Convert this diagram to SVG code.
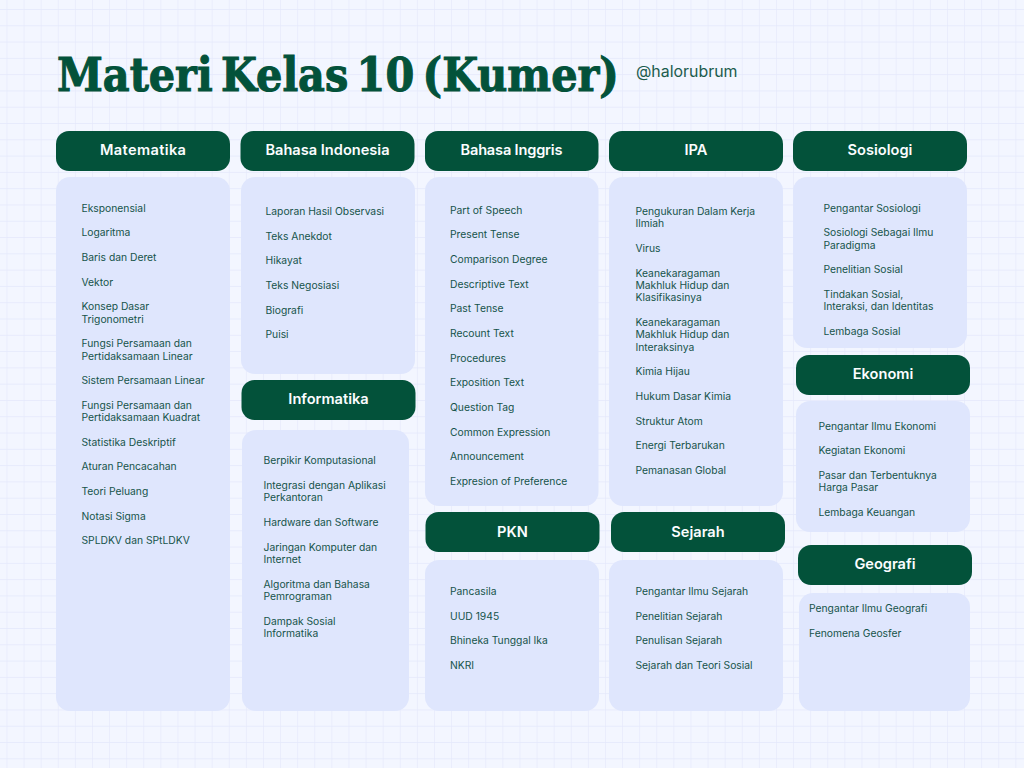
<svg xmlns="http://www.w3.org/2000/svg" width="1024" height="768" viewBox="0 0 1024 768">
<style>
.h{fill:#03523a}
.p{fill:#dfe6fd}
.ht{font-family:"Inter","Liberation Sans",sans-serif;font-size:14.6px;font-weight:600;fill:#fbfdff;text-anchor:middle}
.t{font-family:"Inter","Liberation Sans",sans-serif;font-size:10.3px;fill:#16544a}
.title{font-family:"DejaVu Serif",serif;font-weight:700;font-size:46px;fill:#03523a;stroke:#03523a;stroke-width:1.1px;word-spacing:-6.7px}
.sub{font-family:"Inter","Liberation Sans",sans-serif;font-size:15.9px;fill:#1c5c4d}
</style>
<defs>
<pattern id="grid" x="6.5" y="9" width="17.1" height="16.29" patternUnits="userSpaceOnUse">
<path d="M0 0H17.1M0 0V16.29" fill="none" stroke="#e4e8fb" stroke-width="1.2"/>
</pattern>
</defs>
<rect width="1024" height="768" fill="#f3f6ff"/>
<rect width="1024" height="768" fill="url(#grid)"/>
<g id="title"><text class="title" transform="translate(57 91) scale(.9 1)">Materi Kelas 10 (Kumer)</text><text class="sub" x="636" y="77">@halorubrum</text></g>
<g id="matematika">
<rect class="h" x="56" y="131" width="174" height="40" rx="13"/><text class="ht" x="143" y="155" textLength="86">Matematika</text>
<rect class="p" x="56" y="177" width="174" height="534" rx="14"/>
<text class="t"><tspan x="81.5" y="212">Eksponensial</tspan><tspan x="81.5" y="236">Logaritma</tspan><tspan x="81.5" y="261">Baris dan Deret</tspan><tspan x="81.5" y="286">Vektor</tspan><tspan x="81.5" y="310">Konsep Dasar</tspan><tspan x="81.5" y="323">Trigonometri</tspan><tspan x="81.5" y="347">Fungsi Persamaan dan</tspan><tspan x="81.5" y="360">Pertidaksamaan Linear</tspan><tspan x="81.5" y="384">Sistem Persamaan Linear</tspan><tspan x="81.5" y="409">Fungsi Persamaan dan</tspan><tspan x="81.5" y="421">Pertidaksamaan Kuadrat</tspan><tspan x="81.5" y="446">Statistika Deskriptif</tspan><tspan x="81.5" y="470">Aturan Pencacahan</tspan><tspan x="81.5" y="495">Teori Peluang</tspan><tspan x="81.5" y="520">Notasi Sigma</tspan><tspan x="81.5" y="544">SPLDKV dan SPtLDKV</tspan></text>
</g>
<g id="bahasa-indonesia">
<rect class="h" x="240.500" y="131" width="174" height="40" rx="13"/><text class="ht" x="327.500" y="155">Bahasa Indonesia</text>
<rect class="p" x="241" y="177" width="174" height="197" rx="14"/>
<text class="t"><tspan x="265.500" y="215">Laporan Hasil Observasi</tspan><tspan x="265.500" y="240">Teks Anekdot</tspan><tspan x="265.500" y="264">Hikayat</tspan><tspan x="265.500" y="289">Teks Negosiasi</tspan><tspan x="265.500" y="314">Biografi</tspan><tspan x="265.500" y="338">Puisi</tspan></text>
</g>
<g id="informatika">
<rect class="h" x="241.500" y="380" width="174" height="40" rx="13"/><text class="ht" x="328.500" y="404">Informatika</text>
<rect class="p" x="242" y="430" width="167" height="281" rx="14"/>
<text class="t"><tspan x="263.500" y="464">Berpikir Komputasional</tspan><tspan x="263.500" y="489">Integrasi dengan Aplikasi</tspan><tspan x="263.500" y="501">Perkantoran</tspan><tspan x="263.500" y="526">Hardware dan Software</tspan><tspan x="263.500" y="551">Jaringan Komputer dan</tspan><tspan x="263.500" y="563">Internet</tspan><tspan x="263.500" y="588">Algoritma dan Bahasa</tspan><tspan x="263.500" y="600">Pemrograman</tspan><tspan x="263.500" y="625">Dampak Sosial</tspan><tspan x="263.500" y="637">Informatika</tspan></text>
</g>
<g id="bahasa-inggris">
<rect class="h" x="425" y="131" width="173.500" height="40" rx="13"/><text class="ht" x="511.500" y="155" textLength="102">Bahasa Inggris</text>
<rect class="p" x="425" y="177" width="173.500" height="329" rx="14"/>
<text class="t"><tspan x="450" y="214">Part of Speech</tspan><tspan x="450" y="238">Present Tense</tspan><tspan x="450" y="263">Comparison Degree</tspan><tspan x="450" y="288">Descriptive Text</tspan><tspan x="450" y="312">Past Tense</tspan><tspan x="450" y="337">Recount Text</tspan><tspan x="450" y="362">Procedures</tspan><tspan x="450" y="386">Exposition Text</tspan><tspan x="450" y="411">Question Tag</tspan><tspan x="450" y="436">Common Expression</tspan><tspan x="450" y="460">Announcement</tspan><tspan x="450" y="485">Expresion of Preference</tspan></text>
</g>
<g id="pkn">
<rect class="h" x="425.500" y="512" width="174" height="40" rx="13"/><text class="ht" x="512.500" y="537">PKN</text>
<rect class="p" x="425" y="560" width="174" height="151" rx="14"/>
<text class="t"><tspan x="450" y="595">Pancasila</tspan><tspan x="450" y="620">UUD 1945</tspan><tspan x="450" y="644">Bhineka Tunggal Ika</tspan><tspan x="450" y="669">NKRI</tspan></text>
</g>
<g id="ipa">
<rect class="h" x="609" y="131" width="174" height="40" rx="13"/><text class="ht" x="696" y="155">IPA</text>
<rect class="p" x="609" y="177" width="174" height="329" rx="14"/>
<text class="t"><tspan x="635.500" y="215">Pengukuran Dalam Kerja</tspan><tspan x="635.500" y="227">Ilmiah</tspan><tspan x="635.500" y="252">Virus</tspan><tspan x="635.500" y="277">Keanekaragaman</tspan><tspan x="635.500" y="289">Makhluk Hidup dan</tspan><tspan x="635.500" y="301">Klasifikasinya</tspan><tspan x="635.500" y="326">Keanekaragaman</tspan><tspan x="635.500" y="338">Makhluk Hidup dan</tspan><tspan x="635.500" y="351">Interaksinya</tspan><tspan x="635.500" y="375">Kimia Hijau</tspan><tspan x="635.500" y="400">Hukum Dasar Kimia</tspan><tspan x="635.500" y="425">Struktur Atom</tspan><tspan x="635.500" y="449">Energi Terbarukan</tspan><tspan x="635.500" y="474">Pemanasan Global</tspan></text>
</g>
<g id="sejarah">
<rect class="h" x="611" y="512" width="174" height="40" rx="13"/><text class="ht" x="698" y="537">Sejarah</text>
<rect class="p" x="609" y="560" width="174" height="151" rx="14"/>
<text class="t"><tspan x="635.500" y="595">Pengantar Ilmu Sejarah</tspan><tspan x="635.500" y="620">Penelitian Sejarah</tspan><tspan x="635.500" y="644">Penulisan Sejarah</tspan><tspan x="635.500" y="669">Sejarah dan Teori Sosial</tspan></text>
</g>
<g id="sosiologi">
<rect class="h" x="793" y="131" width="174" height="40" rx="13"/><text class="ht" x="880" y="155">Sosiologi</text>
<rect class="p" x="793" y="177" width="174" height="171" rx="14"/>
<text class="t"><tspan x="823.500" y="212">Pengantar Sosiologi</tspan><tspan x="823.500" y="236">Sosiologi Sebagai Ilmu</tspan><tspan x="823.500" y="249">Paradigma</tspan><tspan x="823.500" y="273">Penelitian Sosial</tspan><tspan x="823.500" y="298">Tindakan Sosial,</tspan><tspan x="823.500" y="310">Interaksi, dan Identitas</tspan><tspan x="823.500" y="335">Lembaga Sosial</tspan></text>
</g>
<g id="ekonomi">
<rect class="h" x="796" y="355" width="174" height="40" rx="13"/><text class="ht" x="883" y="379">Ekonomi</text>
<rect class="p" x="796" y="401" width="174" height="131" rx="14"/>
<text class="t"><tspan x="818.500" y="430">Pengantar Ilmu Ekonomi</tspan><tspan x="818.500" y="454">Kegiatan Ekonomi</tspan><tspan x="818.500" y="479">Pasar dan Terbentuknya</tspan><tspan x="818.500" y="491">Harga Pasar</tspan><tspan x="818.500" y="516">Lembaga Keuangan</tspan></text>
</g>
<g id="geografi">
<rect class="h" x="798" y="545" width="174" height="40" rx="13"/><text class="ht" x="885" y="569">Geografi</text>
<rect class="p" x="799" y="593" width="171" height="118" rx="14"/>
<text class="t"><tspan x="809" y="612">Pengantar Ilmu Geografi</tspan><tspan x="809" y="637">Fenomena Geosfer</tspan></text>
</g>
<g id="connectors"/>
</svg>
